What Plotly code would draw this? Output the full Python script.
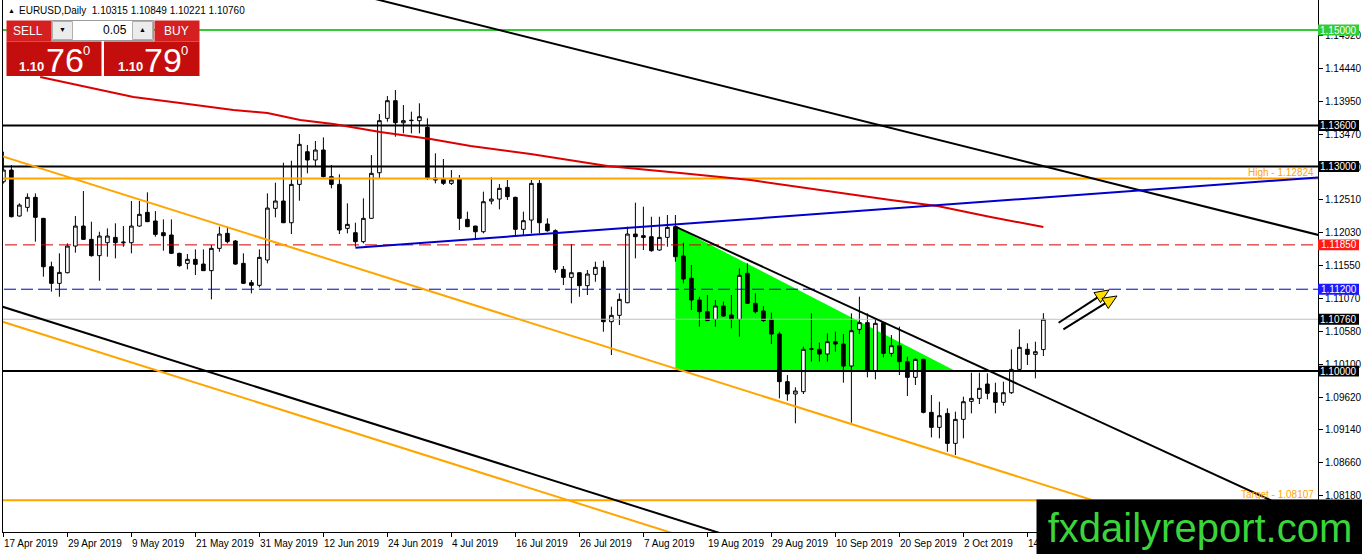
import math
import plotly.graph_objects as go

# ------------------------------------------------------------------ data
bar_index = list(range(131))
opens = [1.12776, 1.12947, 1.12273, 1.12400, 1.12547, 1.12239, 1.11530, 1.11286, 1.11442, 1.11833,
         1.12126, 1.11931, 1.11692, 1.11882, 1.11960, 1.11880, 1.11882, 1.12126, 1.12327, 1.12200,
         1.12029, 1.11995, 1.11726, 1.11579, 1.11638, 1.11569, 1.11472, 1.11799, 1.12019, 1.11907,
         1.11579, 1.11296, 1.11257, 1.11628, 1.12386, 1.12493, 1.12175, 1.12737, 1.13216, 1.13094,
         1.13241, 1.12850, 1.12737, 1.12092, 1.12029, 1.11897, 1.12239, 1.12908, 1.13705, 1.13964,
         1.13641, 1.13671, 1.13671, 1.13573, 1.12830, 1.12811, 1.12752, 1.12816, 1.12224, 1.12126,
         1.12043, 1.12493, 1.12522, 1.12693, 1.12547, 1.12078, 1.12214, 1.12752, 1.12156, 1.12058,
         1.11491, 1.11374, 1.11442, 1.11252, 1.11418, 1.11521, 1.10724, 1.10817, 1.11002, 1.12009,
         1.11985, 1.11970, 1.11775, 1.11960, 1.12117, 1.11687, 1.11360, 1.11042, 1.10871, 1.10758,
         1.10954, 1.10822, 1.10758, 1.11433, 1.10993, 1.10881, 1.10758, 1.10543, 1.09845, 1.09664,
         1.09698, 1.10319, 1.10319, 1.10250, 1.10431, 1.10397, 1.10074, 1.10612, 1.10710, 1.10006,
         1.10710, 1.10260, 1.10372, 1.10138, 1.09908, 1.10172, 1.09395, 1.09175, 1.09380, 1.08940,
         1.09292, 1.09556, 1.09600, 1.09810, 1.09683, 1.09542, 1.09683, 1.10025, 1.10319, 1.10245,
         1.10315]
highs = [1.13216, 1.13021, 1.12459, 1.12605, 1.12605, 1.12245, 1.11604, 1.11726, 1.11872, 1.12273,
         1.12640, 1.12190, 1.12043, 1.12092, 1.12166, 1.12126, 1.12493, 1.12493, 1.12620, 1.12346,
         1.12224, 1.12224, 1.11736, 1.11716, 1.11784, 1.11784, 1.11848, 1.12117, 1.12117, 1.11921,
         1.11726, 1.11335, 1.11784, 1.12605, 1.12762, 1.13055, 1.13084, 1.13475, 1.13314, 1.13373,
         1.13426, 1.13021, 1.12884, 1.12459, 1.12175, 1.12532, 1.13167, 1.13769, 1.14032, 1.14120,
         1.13900, 1.13803, 1.13925, 1.13705, 1.13192, 1.13109, 1.12947, 1.12874, 1.12337, 1.12130,
         1.12630, 1.12840, 1.12742, 1.12801, 1.12557, 1.12337, 1.12801, 1.12801, 1.12239, 1.12078,
         1.11540, 1.11863, 1.11450, 1.11481, 1.11604, 1.11618, 1.10944, 1.11139, 1.12117, 1.12469,
         1.12410, 1.12263, 1.12263, 1.12288, 1.12288, 1.11882, 1.11555, 1.11091, 1.11115, 1.11042,
         1.11018, 1.11115, 1.11506, 1.11579, 1.11140, 1.10954, 1.10856, 1.10578, 1.09942, 1.09762,
         1.10358, 1.10846, 1.10416, 1.10553, 1.10578, 1.10543, 1.10846, 1.11091, 1.10846, 1.10773,
         1.10715, 1.10529, 1.10651, 1.10211, 1.10187, 1.10180, 1.09649, 1.09551, 1.09454, 1.09405,
         1.09625, 1.09977, 1.09977, 1.09967, 1.09830, 1.09845, 1.10319, 1.10612, 1.10407, 1.10431,
         1.10849]
lows = [1.12750, 1.12254, 1.12263, 1.12337, 1.11897, 1.11384, 1.11164, 1.11090, 1.11433, 1.11736,
        1.11921, 1.11677, 1.11325, 1.11677, 1.11652, 1.11823, 1.11726, 1.12117, 1.12185, 1.11970,
        1.11765, 1.11716, 1.11530, 1.11491, 1.11408, 1.11468, 1.11051, 1.11750, 1.11872, 1.11555,
        1.11276, 1.11139, 1.11227, 1.11579, 1.12254, 1.12170, 1.12009, 1.12498, 1.12899, 1.12996,
        1.12840, 1.12679, 1.12009, 1.12019, 1.11823, 1.11872, 1.12235, 1.12825, 1.13656, 1.13436,
        1.13485, 1.13485, 1.13485, 1.12801, 1.12752, 1.12728, 1.12728, 1.12068, 1.12110, 1.11946,
        1.12019, 1.12444, 1.12371, 1.12508, 1.11980, 1.11980, 1.12019, 1.12019, 1.12043, 1.11442,
        1.11261, 1.10993, 1.11090, 1.11115, 1.11310, 1.10577, 1.10235, 1.10675, 1.10995, 1.11652,
        1.11775, 1.11750, 1.11765, 1.11823, 1.11604, 1.11286, 1.10895, 1.10651, 1.10735, 1.10651,
        1.10798, 1.10627, 1.10504, 1.10983, 1.10846, 1.10724, 1.10397, 1.09600, 1.09566, 1.09234,
        1.09664, 1.10138, 1.10138, 1.10138, 1.10284, 1.09830, 1.09243, 1.10543, 1.09908, 1.09879,
        1.10201, 1.10211, 1.09942, 1.09634, 1.09796, 1.09380, 1.09028, 1.09014, 1.08818, 1.08769,
        1.09014, 1.09380, 1.09517, 1.09586, 1.09380, 1.09493, 1.09664, 1.10006, 1.10089, 1.09893,
        1.10221]
closes = [1.12947, 1.12263, 1.12434, 1.12547, 1.12254, 1.11530, 1.11286, 1.11447, 1.11833, 1.12126,
          1.11931, 1.11692, 1.11980, 1.11980, 1.11882, 1.11890, 1.12126, 1.12298, 1.12190, 1.12004,
          1.11985, 1.11726, 1.11545, 1.11638, 1.11565, 1.11472, 1.11799, 1.12009, 1.11897, 1.11569,
          1.11286, 1.11257, 1.11667, 1.12390, 1.12493, 1.12175, 1.12737, 1.13324, 1.13094, 1.13241,
          1.12850, 1.12737, 1.12068, 1.12151, 1.11897, 1.12239, 1.12899, 1.13671, 1.13964, 1.13641,
          1.13671, 1.13676, 1.13729, 1.12825, 1.12800, 1.12752, 1.12801, 1.12239, 1.12117, 1.12043,
          1.12483, 1.12522, 1.12679, 1.12557, 1.12078, 1.12205, 1.12752, 1.12175, 1.12058, 1.11491,
          1.11374, 1.11442, 1.11252, 1.11423, 1.11521, 1.10724, 1.10817, 1.11051, 1.12009, 1.11970,
          1.11960, 1.11765, 1.11960, 1.12107, 1.11677, 1.11350, 1.11042, 1.10871, 1.10739, 1.10954,
          1.10807, 1.10758, 1.11404, 1.10993, 1.10871, 1.10739, 1.10543, 1.09845, 1.09664, 1.09708,
          1.10319, 1.10325, 1.10250, 1.10431, 1.10397, 1.10074, 1.10592, 1.10710, 1.10006, 1.10700,
          1.10260, 1.10372, 1.10138, 1.09908, 1.10172, 1.09395, 1.09175, 1.09346, 1.08940, 1.09292,
          1.09551, 1.09600, 1.09747, 1.09674, 1.09542, 1.09683, 1.10025, 1.10348, 1.10245, 1.10284,
          1.10760]

tick_bars = [0, 8, 16, 24, 32, 40, 48, 56, 64, 72, 80, 88, 96, 104, 112, 120, 128]
tick_labels = ["17 Apr 2019", "29 Apr 2019", "9 May 2019", "21 May 2019", "31 May 2019",
               "12 Jun 2019", "24 Jun 2019", "4 Jul 2019", "16 Jul 2019", "26 Jul 2019",
               "7 Aug 2019", "19 Aug 2019", "29 Aug 2019", "10 Sep 2019", "20 Sep 2019",
               "2 Oct 2019", "14 Oct 2019"]

price_ticks = [1.08180, 1.08660, 1.09140, 1.09620, 1.10100, 1.10580, 1.11070, 1.11550,
               1.12030, 1.12510, 1.12990, 1.13470, 1.13950, 1.14440, 1.14920]

# horizontal levels
level_prices = [1.15000, 1.13600, 1.13000, 1.12824, 1.11850, 1.11200, 1.10760, 1.10000, 1.08107]
level_colors = ["#33cc33", "#000000", "#000000", "#FFA500", "#d00000", "#0000c8", "#c0c0c0", "#000000", "#FFA500"]
level_widths = [2, 2, 2, 2, 1, 1, 1, 2, 2]
level_dashes = ["solid", "solid", "solid", "solid", "12px,6px", "12px,5px", "solid", "solid", "solid"]

# price tags on the right scale
tag_prices = [1.15000, 1.13600, 1.13000, 1.11850, 1.11200, 1.10760, 1.10000]
tag_colors = ["#33cc33", "#000000", "#000000", "#ff1a1a", "#1a1aff", "#000000", "#000000"]

# moving average (red)
ma_bars = [4.6, 12.1, 16.25, 22.1, 28.75, 33, 37.1, 41.25, 47.1, 53.4, 58.4, 65.9, 70,
           75.5, 84.6, 93.4, 110.9, 116.75, 123.4, 130]
ma_vals = [1.14312, 1.14121, 1.14018, 1.13930, 1.13827, 1.13783, 1.13681, 1.13622, 1.13505,
           1.13402, 1.13300, 1.13182, 1.13109, 1.13006, 1.12904, 1.12801, 1.12508, 1.12420,
           1.12259, 1.12112]

# trend lines
trend_top_bars, trend_top_prices = [40, 165], [1.15645, 1.11977]
trend_blue_bars, trend_blue_prices = [44, 165], [1.11809, 1.12844]
chan_up_bars, chan_up_prices = [-1, 150], [1.13182, 1.07595]
chan_lo_bars, chan_lo_prices = [-1, 100], [1.10756, 1.07019]
black_lo_bars, black_lo_prices = [-1, 100], [1.10976, 1.07239]
tri_line_bars, tri_line_prices = [84, 160], [1.12117, 1.08020]
tri_fill_bars, tri_fill_prices = [84, 84, 119], [1.12117, 1.10000, 1.10000]

arrow_starts = [(131.9, 1.10709), (132.5, 1.10612)]
arrow_ends = [(138.2, 1.11189), (139.2, 1.11101)]

# ------------------------------------------------------------------ geometry
W, H = 1362, 554
PX_L, PX_R, PX_T, PX_B = 3, 1318, 0, 532
X_RANGE = [-0.05, (PX_R - PX_L) / 8 - 0.05]
Y_RANGE = [1.07641, 1.15440]
SX = (PX_R - PX_L) / (X_RANGE[1] - X_RANGE[0])
SY = (PX_B - PX_T) / (Y_RANGE[1] - Y_RANGE[0])


def xp(px):
    return (px - PX_L) / (PX_R - PX_L)


def yp(py):
    return (PX_B - py) / (PX_B - PX_T)


FONT = "Liberation Sans, Arial, sans-serif"
fig = go.Figure()

shapes = []
annotations = []

# green triangle (below candles)
tri_path = "M " + " L ".join(f"{bx},{by}" for bx, by in zip(tri_fill_bars, tri_fill_prices)) + " Z"
shapes.append(dict(type="path", xref="x", yref="y", path=tri_path, fillcolor="#00ff00",
                   line=dict(width=0), layer="below"))

fig.add_trace(go.Candlestick(
    x=bar_index, open=opens, high=highs, low=lows, close=closes,
    increasing=dict(line=dict(color="black", width=1), fillcolor="white"),
    decreasing=dict(line=dict(color="black", width=1), fillcolor="black"),
    whiskerwidth=0, hoverinfo="skip", showlegend=False))

# horizontal levels
for p, c, w, d in zip(level_prices, level_colors, level_widths, level_dashes):
    fig.add_trace(go.Scatter(x=[X_RANGE[0] - 2, X_RANGE[1] + 2], y=[p, p], mode="lines",
                             line=dict(color=c, width=w, dash=d), hoverinfo="skip", showlegend=False))


def add_line(xs, ys, color, width=2):
    fig.add_trace(go.Scatter(x=xs, y=ys, mode="lines", line=dict(color=color, width=width),
                             hoverinfo="skip", showlegend=False))


add_line(ma_bars, ma_vals, "#dd0000")
add_line(trend_top_bars, trend_top_prices, "#000000")
add_line(trend_blue_bars, trend_blue_prices, "#0000cc")
add_line(chan_up_bars, chan_up_prices, "#FFA500")
add_line(chan_lo_bars, chan_lo_prices, "#FFA500")
add_line(black_lo_bars, black_lo_prices, "#000000")
add_line(tri_line_bars, tri_line_prices, "#000000")

# arrows
for (x0, y0), (x1, y1) in zip(arrow_starts, arrow_ends):
    dx, dy = (x1 - x0) * SX, (y1 - y0) * SY
    n = math.hypot(dx, dy)
    ux, uy = dx / n, dy / n
    hl, hw = 14, 6
    bx, by = x1 * SX - hl * ux, y1 * SY - hl * uy
    px_, py_ = -uy, ux
    add_line([x0, bx / SX], [y0, by / SY], "#000000", 2)
    hx = [x1, (bx + hw * px_) / SX, (bx - hw * px_) / SX, x1]
    hy = [y1, (by + hw * py_) / SY, (by - hw * py_) / SY, y1]
    fig.add_trace(go.Scatter(x=hx, y=hy, mode="lines", fill="toself", fillcolor="#ffdd00",
                             line=dict(color="#000000", width=1), hoverinfo="skip", showlegend=False))

# price tags on the right axis
for p, c in zip(tag_prices, tag_colors):
    shapes.append(dict(type="rect", xref="paper", yref="y", x0=xp(1318), x1=xp(1359),
                       y0=p - 0.00080, y1=p + 0.00080, fillcolor=c, line=dict(width=0), layer="above"))
    annotations.append(dict(xref="paper", yref="y", x=xp(1338.5), y=p, text=f"{p:.5f}",
                            showarrow=False, xanchor="center", yanchor="middle",
                            font=dict(family=FONT, size=10, color="white")))

# date labels under the time axis (left-aligned at each tick, like the terminal)
for b, lab in zip(tick_bars, tick_labels):
    annotations.append(dict(xref="x", yref="paper", x=b, y=yp(543), text=lab, showarrow=False,
                            xanchor="left", yanchor="middle", xshift=-1,
                            font=dict(family=FONT, size=10, color="black")))

# level descriptions
annotations.append(dict(xref="paper", yref="y", x=xp(1316), y=1.12824, text="High - 1.12824",
                        showarrow=False, xanchor="right", yanchor="bottom", yshift=-2,
                        font=dict(family=FONT, size=10, color="#FFA500")))
annotations.append(dict(xref="paper", yref="y", x=xp(1316), y=1.08107, text="Target - 1.08107",
                        showarrow=False, xanchor="right", yanchor="bottom", yshift=-2,
                        font=dict(family=FONT, size=10, color="#FFA500")))

# header
annotations.append(dict(xref="paper", yref="paper", x=xp(6), y=yp(10), text="▲", showarrow=False,
                        xanchor="left", yanchor="middle", font=dict(family=FONT, size=7, color="black")))
annotations.append(dict(xref="paper", yref="paper", x=xp(17), y=yp(10),
                        text="EURUSD,Daily\u00a0\u00a01.10315 1.10849 1.10221 1.10760", showarrow=False,
                        xanchor="left", yanchor="middle", font=dict(family=FONT, size=10, color="black")))


# trade panel
def prect(x0, x1, y0, y1, fill, line=None):
    shapes.append(dict(type="rect", xref="paper", yref="paper", x0=xp(x0), x1=xp(x1), y0=yp(y1), y1=yp(y0),
                       fillcolor=fill, line=dict(width=1 if line else 0, color=line or fill), layer="above"))


def ptext(x, y, text, size, color="white", anchor="center"):
    annotations.append(dict(xref="paper", yref="paper", x=xp(x), y=yp(y), text=text, showarrow=False,
                            xanchor=anchor, yanchor="middle", font=dict(family=FONT, size=size, color=color)))


prect(6.5, 51.5, 20.5, 41.5, "#d42020")
prect(154.5, 199.5, 20.5, 41.5, "#d42020")
prect(51.5, 153.5, 20.5, 40.5, "#ffffff", "#9a9a9a")
prect(52.5, 72.5, 21.5, 39.5, "#ececec", "#b0b0b0")
prect(132.5, 152.5, 21.5, 39.5, "#ececec", "#b0b0b0")
prect(6.5, 101.5, 41.5, 76, "#c40e0e")
prect(104, 199.5, 41.5, 76, "#c40e0e")
ptext(28, 31, "SELL", 12)
ptext(176, 31, "BUY", 12)
ptext(129, 30, "0.05", 12, "black", "right")
ptext(62.5, 30, "▼", 7, "black")
ptext(142.5, 30, "▲", 7, "black")
ptext(32, 66, "<b>1.10</b>", 13)
ptext(65, 60, "76", 34)
ptext(86, 51, "0", 13)
ptext(130.5, 66, "<b>1.10</b>", 13)
ptext(163, 60, "79", 34)
ptext(184, 51, "0", 13)

# watermark (last annotation, so it sits on top of the date labels)
annotations.append(dict(xref="paper", yref="paper", x=xp(1036), y=yp(499), text="fxdailyreport.com",
                        showarrow=False, xanchor="left", yanchor="top", width=326, height=55,
                        bgcolor="#000000", borderpad=0, align="center", valign="middle",
                        font=dict(family=FONT, size=40, color="#3ad53a")))

fig.update_layout(
    width=W, height=H,
    margin=dict(l=PX_L, r=W - PX_R, t=PX_T, b=H - PX_B, autoexpand=False),
    paper_bgcolor="white", plot_bgcolor="white",
    showlegend=False, hovermode=False, boxgap=0.35,
    shapes=shapes, annotations=annotations,
    xaxis=dict(range=X_RANGE, tickmode="array", tickvals=tick_bars, ticktext=tick_labels,
               showticklabels=False, ticks="outside", ticklen=4, tickcolor="black",
               showline=True, linecolor="black", linewidth=1, mirror=True,
               showgrid=False, zeroline=False, rangeslider=dict(visible=False), automargin=False,
               fixedrange=True),
    yaxis=dict(range=Y_RANGE, side="right", tickmode="array", tickvals=price_ticks,
               ticktext=[f"{v:.5f}" for v in price_ticks],
               ticks="outside", ticklen=4, tickcolor="black",
               tickfont=dict(family=FONT, size=10, color="black"),
               showline=True, linecolor="black", linewidth=1, mirror=True,
               showgrid=False, zeroline=False, automargin=False, fixedrange=True),
)

fig.write_html("out.html", config={"displayModeBar": False},
               post_script="document.body.style.margin='0px';")
